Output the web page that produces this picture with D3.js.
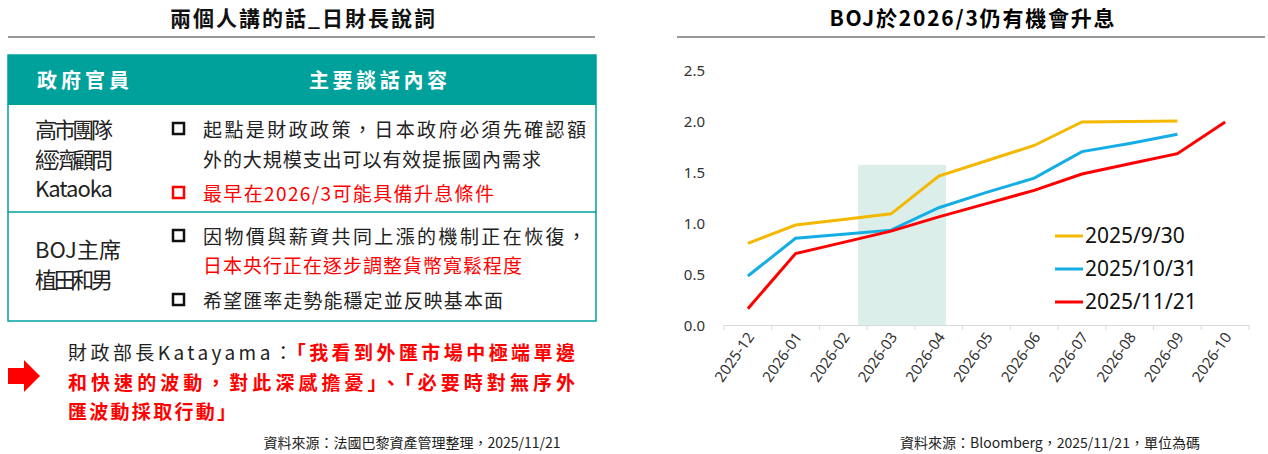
<!DOCTYPE html>
<html><head><meta charset="utf-8">
<script src="https://cdn.jsdelivr.net/npm/d3@7"></script>
<style>body{margin:0;background:#fff;font-family:"Noto Sans CJK TC","Noto Sans",sans-serif}</style>
</head><body><div id="c"></div>
<script>
const months = ["2025-12","2026-01","2026-02","2026-03","2026-04","2026-05","2026-06","2026-07","2026-08","2026-09","2026-10"];
const sep30 = [0.80,0.98,1.035,1.09,1.46,1.61,1.76,1.99,1.995,2.0,null];
const oct31 = [0.48,0.85,0.89,0.93,1.15,1.30,1.44,1.70,1.78,1.87,null];
const nov21 = [0.16,0.70,0.81,0.92,1.06,1.19,1.32,1.48,1.58,1.68,1.99];
const yTicks = [0,0.5,1,1.5,2,2.5];
const seriesNames = ["2025/9/30","2025/10/31","2025/11/21"];
const colors = ["#F5B800","#14ADE4","#FF0000"];

const svg = d3.select("#c").append("svg").attr("width",1268).attr("height",454);
const font = '"Noto Sans CJK TC",sans-serif';

function txt(xp, yp, s, size, fill, len, bold) {
  const t = svg.append("text").attr("x",xp).attr("y",yp).attr("font-size",size)
    .attr("font-family",font).attr("fill",fill).text(s);
  if (len) t.attr("textLength",len).attr("lengthAdjust","spacing");
  if (bold) t.attr("font-weight","bold");
  return t;
}

// ---- left panel
txt(170,26,"兩個人講的話_日財長說詞",21,"#111",265,true);
svg.append("line").attr("x1",8).attr("x2",595).attr("y1",37).attr("y2",37).attr("stroke","#333");

const teal = "#00A19B";
svg.append("rect").attr("x",8).attr("y",55).attr("width",588).attr("height",50).attr("fill",teal);
svg.append("rect").attr("x",8).attr("y",55).attr("width",588).attr("height",266).attr("fill","none").attr("stroke",teal).attr("stroke-width",1.5);
svg.append("line").attr("x1",8).attr("x2",596).attr("y1",212).attr("y2",212).attr("stroke",teal).attr("stroke-width",1.5);
txt(37,88,"政府官員",20,"#fff",92,true);
txt(309,88,"主要談話內容",20,"#fff",138,true);

const names = [["高市團隊",138],["經濟顧問",168],["Kataoka",197],["BOJ主席",258],["植田和男",288]];
names.forEach(d => txt(35,d[1],d[0],22,"#222",d[0]==="BOJ主席"?86:78));

const lines = [
  ["起點是財政政策，日本政府必須先確認額",137,"#222",true,383],
  ["外的大規模支出可以有效提振國內需求",167,"#222",false,338],
  ["最早在2026/3可能具備升息條件",201,"#FF0000",true,291],
  ["因物價與薪資共同上漲的機制正在恢復，",244,"#222",true,383],
  ["日本央行正在逐步調整貨幣寬鬆程度",273,"#FF0000",false,319],
  ["希望匯率走勢能穩定並反映基本面",308,"#222",true,300]
];
lines.forEach(d => {
  txt(203,d[1],d[0],19,d[2],d[4]);
  if (d[3]) svg.append("rect").attr("x",173).attr("y",d[1]-14).attr("width",11).attr("height",11)
    .attr("fill","none").attr("stroke",d[2]==="#222"?"#111":"#FF0000").attr("stroke-width",2.5);
});

svg.append("path").attr("d","M8,368 H24 V360 L40,376 L24,392 V384 H8 Z").attr("fill","#FF0000");
const t1 = svg.append("text").attr("x",68).attr("y",360).attr("font-size",19).attr("font-family",font)
  .attr("textLength",507).attr("lengthAdjust","spacing");
t1.append("tspan").attr("fill","#222").text("財政部長Katayama：");
t1.append("tspan").attr("fill","#FF0000").attr("font-weight","bold").text("「我看到外匯市場中極端單邊");
txt(68,390,"和快速的波動，對此深感擔憂」、「必要時對無序外",19,"#FF0000",507,true);
txt(68,419,"匯波動採取行動」",19,"#FF0000",168,true);
svg.append("text").attr("x",412).attr("y",448).attr("text-anchor","middle").attr("font-size",14).attr("font-family",font).attr("fill","#222").text("資料來源：法國巴黎資產管理整理，2025/11/21");

// ---- right chart
svg.append("text").attr("x",972).attr("y",26).attr("text-anchor","middle").attr("textLength",285).attr("lengthAdjust","spacing")
  .attr("font-size",21).attr("font-weight","bold").attr("font-family",font).text("BOJ於2026/3仍有機會升息");
svg.append("line").attr("x1",677).attr("x2",1265).attr("y1",37).attr("y2",37).attr("stroke","#333");

const x = d3.scaleBand().domain(months).range([724,1249]);
const y = d3.scaleLinear().domain([0,2.5]).range([325,70]);
const bw = x.bandwidth();

svg.append("rect").attr("x",x("2026-02")+0.81*bw).attr("width",1.84*bw)
  .attr("y",y(1.57)).attr("height",y(0)-y(1.57)).attr("fill","#DCEEE9");

svg.append("g").attr("transform","translate(0,325)")
  .call(d3.axisBottom(x).tickSize(0).tickFormat(""))
  .call(g => g.select(".domain").attr("stroke","#d9d9d9"));
svg.append("g").selectAll("line").data(d3.range(months.length+1)).join("line")
  .attr("x1",i=>724+i*bw).attr("x2",i=>724+i*bw).attr("y1",325).attr("y2",330).attr("stroke","#d9d9d9");
svg.append("g").selectAll("text").data(months).join("text")
  .attr("transform",d=>`translate(${x(d)+bw/2+7},337) rotate(-55)`)
  .attr("text-anchor","end").attr("font-size",15).attr("font-family","'Noto Sans',sans-serif").attr("fill","#333").text(d=>d);

svg.append("g").attr("transform","translate(708,0)")
  .call(d3.axisLeft(y).tickValues(yTicks).tickSize(0).tickFormat(d3.format(".1f")))
  .call(g => g.select(".domain").remove())
  .call(g => g.selectAll("text").attr("font-size",15).attr("font-family","'Noto Sans',sans-serif").attr("fill","#333").attr("dy","0.35em"));

const line = d3.line().defined(v=>v!=null).x((v,i)=>x(months[i])+bw/2).y(v=>y(v));
[sep30,oct31,nov21].forEach((s,k)=>{
  svg.append("path").attr("d",line(s)).attr("fill","none").attr("stroke",colors[k]).attr("stroke-width",3);
});

seriesNames.forEach((n,k)=>{
  const yy = 236+k*33;
  svg.append("line").attr("x1",1055).attr("x2",1083).attr("y1",yy).attr("y2",yy).attr("stroke",colors[k]).attr("stroke-width",3);
  svg.append("text").attr("x",1085).attr("y",yy).attr("dy","0.35em").attr("font-size",21).attr("font-family","'Noto Sans',sans-serif").attr("fill","#111").text(n);
});

svg.append("text").attr("x",1050).attr("y",448).attr("text-anchor","middle").attr("font-size",14).attr("font-family",font).attr("fill","#222").text("資料來源：Bloomberg，2025/11/21，單位為碼");
</script></body></html>
